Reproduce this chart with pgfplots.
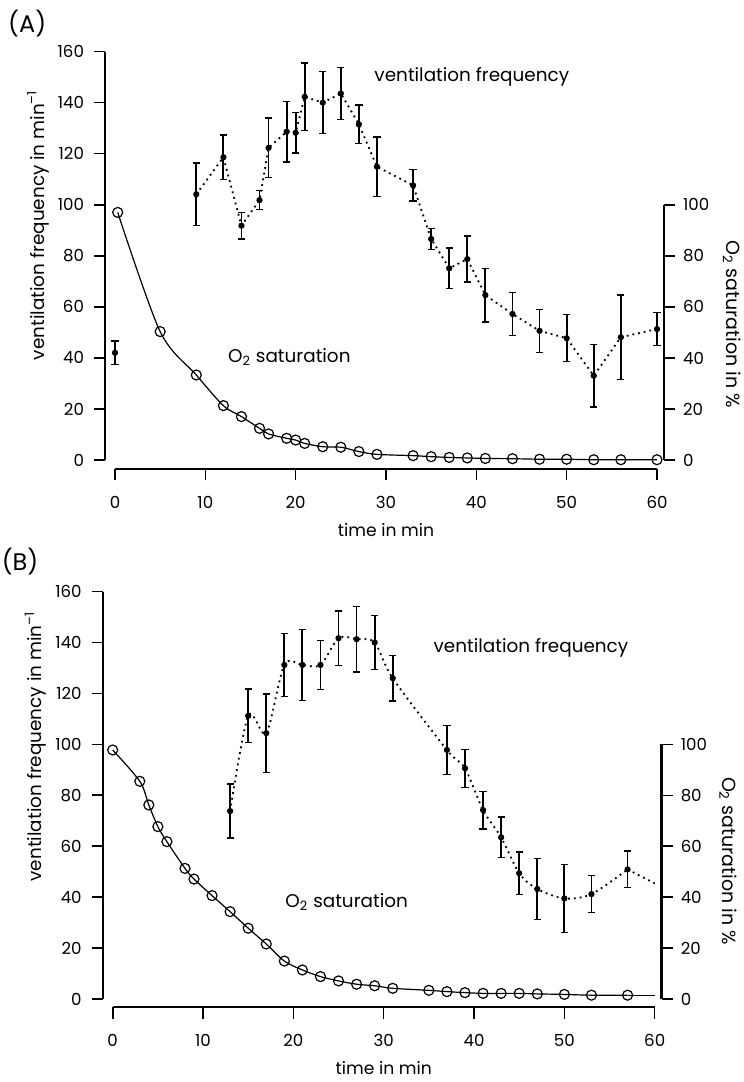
\documentclass[border=0pt]{standalone}
\usepackage{fontspec}
\setmainfont{Poppins}
\usepackage{pgfplots}
\usepackage{pgfplotstable}
\pgfplotsset{compat=1.18}

\pgfplotstableread{
x y e
0 42 4.6
9 104.1 12.2
12 118.6 8.7
14 91.8 5.2
16 101.8 3.7
17 122.3 11.7
19 128.6 11.8
20 128.2 8
21 142.3 13.3
23 140.0 12.2
25 143.6 10.2
27 131.5 7.5
29 114.9 11.6
33 107.6 6.2
35 86.6 4.2
37 75.1 8
39 78.7 9
41 64.6 10.5
44 57.2 8.4
47 50.6 8.4
50 47.7 9.2
53 33.0 12.3
56 48.1 16.5
60 51.3 6.5
}\ventA

\pgfplotstableread{
x y
0.3 97
5 50.3
9 33.3
12 21.3
14 17.0
16 12.4
17 10.2
19 8.5
20 7.8
21 6.5
23 5.2
25 5.0
27 3.3
29 2.2
33 1.7
35 1.3
37 1.0
39 0.8
41 0.6
44 0.5
47 0.3
50 0.3
53 0.1
56 0.1
60 0.1
}\oxyA

\pgfplotstableread{
x y e
13 73.8 10.6
15 111.2 10.5
17 104.4 15.4
19 131.2 12.3
21 131.2 13.9
23 131.2 9.7
25 141.7 10.7
27 141.3 12.8
29 140.0 10.6
31 126.0 9.0
37 97.8 9.6
39 90.6 7.5
41 74.2 7.4
43 63.5 8.0
45 49.4 8.4
47 43.2 12.0
50 39.5 13.3
53 41.2 7.2
57 50.9 7.2
}\ventB

\pgfplotstableread{
x y
57 50.9
60 45.4
}\ventBend

\pgfplotstableread{
x y
0 97.8
3 85.5
4 76.2
5 67.7
6 61.8
8 51.3
9 47.1
11 40.6
13 34.3
15 27.8
17 21.6
19 14.9
21 11.4
23 8.8
25 7.1
27 5.8
29 5.2
31 4.2
35 3.4
37 2.9
39 2.5
41 2.2
43 2.2
45 2.2
47 2.0
50 1.8
53 1.5
57 1.5
}\oxyB

\pgfplotstableread{
x y
57 1.5
60 1.5
}\oxyBend

\newcommand{\tf}{\fontsize{8.3}{10}\selectfont}
\newcommand{\lf}{\fontsize{9.2}{11}\selectfont}
\newcommand{\rf}{\fontsize{9.5}{11}\selectfont}
\newcommand{\xf}{\fontsize{8.6}{10}\selectfont}
\newcommand{\af}{\fontsize{9.2}{11}\selectfont}

\pgfplotsset{
  base/.style={
    scale only axis, clip=false,
    tick align=outside, major tick length=5.5pt,
    axis line style={line width=0.9pt, black},
    tick style={line width=0.8pt, black},
    /pgf/number format/assume math mode=true,
    ticklabel style={font=\tf},
  },
  data/.style={
    scale only axis, clip=false, width=271pt, xmin=0, xmax=60, ymin=0, ymax=160,
    axis line style={draw=none}, xtick=\empty, ytick=\empty,
    xlabel style={font=\xf}, ylabel style={font=\lf},
  },
  xonly/.style={base, width=271pt, height=10pt, xmin=0, xmax=60, ymin=0, ymax=1,
    axis y line=none, axis x line*=bottom, axis line style={line width=1pt},
    xtick={0,10,...,60}, xticklabel shift=4.5pt},
  yleft/.style={base, width=10pt, xmin=0, xmax=1, ymin=0, ymax=160,
    axis x line=none, axis y line*=left, ytick={0,20,...,160}, yticklabel shift=1.5pt},
  yright/.style={base, width=10pt, xmin=0, xmax=1, ymin=0, ymax=100,
    axis x line=none, axis y line*=right, axis line style={line width=1.3pt},
    ytick={0,20,...,100}, yticklabel shift=0.5pt},
  o2line/.style={smooth, line width=0.6pt, black, mark=none},
  o2marks/.style={only marks, mark=o, mark size=2.5pt, mark options={fill=white, line width=0.6pt, black}},
  vline/.style={dotted, line width=0.9pt, black, mark=none},
  vmarks/.style={only marks, mark=*, mark size=1.35pt, black,
    error bars/.cd, y dir=both, y explicit,
    error bar style={line width=0.9pt, black},
    error mark options={rotate=90, mark size=1.8pt, line width=0.7pt, black}},
}

\begin{document}
\begin{tikzpicture}
\useasboundingbox (0,0) rectangle (372pt,541pt);

% ---------------- Panel A ----------------
\begin{axis}[xonly, at={(57.5pt,306.5pt)}, anchor=south west]
\end{axis}
\begin{axis}[yleft, at={(52.5pt,311pt)}, anchor=south west, height=204.2pt]
\end{axis}
\begin{axis}[yright, at={(332pt,311pt)}, anchor=south east, height=127.6pt]
\end{axis}
\begin{axis}[data, at={(57.5pt,311pt)}, anchor=south west, height=204.2pt,
  xlabel={time in min},
  ylabel={ventilation frequency in min\textsuperscript{--1}},
  xlabel style={at={(axis description cs:0.5,-0.171)}, anchor=center},
  ylabel style={at={(axis description cs:-0.142,0.575)}, anchor=center},
]
\addplot[o2line] table[x=x,y=y] {\oxyA};
\addplot[o2marks] table[x=x,y=y] {\oxyA};
\addplot[vline, skip coords between index={0}{1}] table[x=x,y=y] {\ventA};
\addplot[vmarks] table[x=x,y=y,y error=e] {\ventA};
\node[font=\af] at (axis cs:39.5,150) {ventilation frequency};
\node[font=\af] at (axis cs:19.3,40.3) {O\textsubscript{2} saturation};
\node[font=\fontsize{12}{14}\selectfont] at (axis description cs:-0.162,1.068) {(A)};
\node[font=\rf, rotate=-90] at (axis description cs:1.138,0.333) {O\textsubscript{2} saturation in \%};
\end{axis}

% ---------------- Panel B ----------------
\begin{axis}[xonly, at={(56.35pt,37.25pt)}, anchor=south west]
\end{axis}
\begin{axis}[yleft, at={(51.35pt,41.5pt)}, anchor=south west, height=203.7pt]
\end{axis}
\begin{axis}[yright, at={(330.85pt,41.5pt)}, anchor=south east, height=127.3pt]
\end{axis}
\begin{axis}[data, at={(56.35pt,41.5pt)}, anchor=south west, height=203.7pt,
  xlabel={time in min},
  ylabel={ventilation frequency in min\textsuperscript{--1}},
  xlabel style={at={(axis description cs:0.5,-0.169)}, anchor=center},
  ylabel style={at={(axis description cs:-0.142,0.62)}, anchor=center},
]
\addplot[o2line] table[x=x,y=y] {\oxyB};
\addplot[line width=0.6pt, black, mark=none] table[x=x,y=y] {\oxyBend};
\addplot[o2marks] table[x=x,y=y] {\oxyB};
\addplot[vline, smooth] table[x=x,y=y] {\ventB};
\addplot[vline] table[x=x,y=y] {\ventBend};
\addplot[vmarks] table[x=x,y=y,y error=e] {\ventB};
\node[font=\af] at (axis cs:46.3,137.9) {ventilation frequency};
\node[font=\af] at (axis cs:25.9,38.2) {O\textsubscript{2} saturation};
\node[font=\fontsize{12}{14}\selectfont] at (axis description cs:-0.171,1.073) {(B)};
\node[font=\rf, rotate=-90] at (axis description cs:1.136,0.339) {O\textsubscript{2} saturation in \%};
\end{axis}
\end{tikzpicture}
\end{document}
